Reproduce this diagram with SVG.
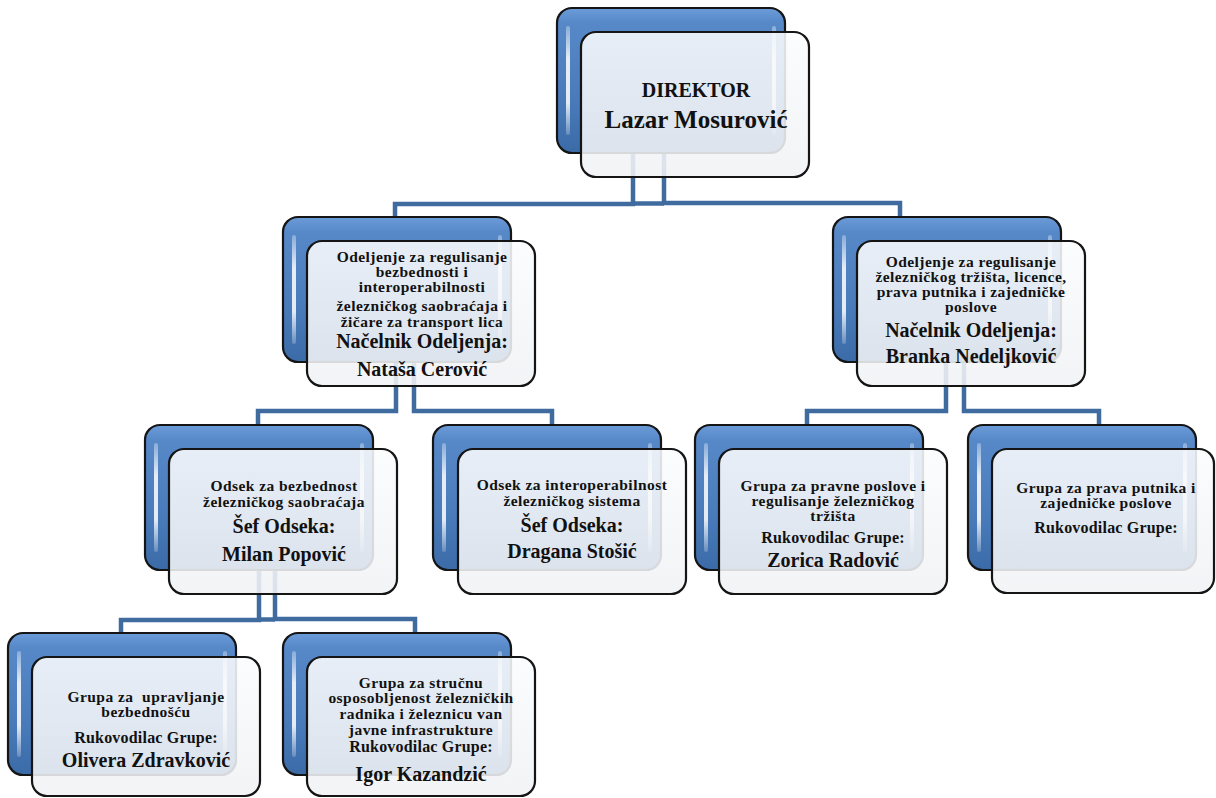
<svg xmlns="http://www.w3.org/2000/svg" width="1216" height="798" viewBox="0 0 1216 798">
<defs>
<linearGradient id="gBack" x1="0" y1="0" x2="0" y2="1">
<stop offset="0" stop-color="#6c9bd8"/>
<stop offset="0.1" stop-color="#5789c9"/>
<stop offset="0.6" stop-color="#4a7cbc"/>
<stop offset="1" stop-color="#3b6ba7"/>
</linearGradient>
<linearGradient id="gFront" x1="0" y1="0" x2="0" y2="1">
<stop offset="0" stop-color="#fbfcfd"/>
<stop offset="1" stop-color="#f0f2f5"/>
</linearGradient>
<linearGradient id="gHl" x1="0" y1="0" x2="0" y2="1">
<stop offset="0" stop-color="#ffffff" stop-opacity="0.3"/>
<stop offset="0.3" stop-color="#ffffff" stop-opacity="0.85"/>
<stop offset="0.7" stop-color="#ffffff" stop-opacity="0.85"/>
<stop offset="1" stop-color="#ffffff" stop-opacity="0.2"/>
</linearGradient>
</defs>
<style>
.back{fill:url(#gBack);stroke:#151515;stroke-width:2.2}
.front{fill:url(#gFront);fill-opacity:0.88;stroke:#151515;stroke-width:2.2}
.hl{fill:url(#gHl)}
.t{font-family:'Liberation Serif',serif;font-weight:bold;text-anchor:middle;fill:#111}
.s{font-size:15.5px;letter-spacing:0.45px}
.m{font-size:16px;letter-spacing:0.2px}
.l{font-size:20px}
.conn{fill:none;stroke:#3f6b9f;stroke-width:4.5}
</style>
<rect width="1216" height="798" fill="#ffffff"/>
<g id="connectors">
<path class="conn" d="M633,150 V204 H395 V219"/>
<path class="conn" d="M664,150 V203 H900 V219"/>
<path class="conn" d="M633,203.5 H664"/>
<path class="conn" d="M396,360 V411 H258 V426"/>
<path class="conn" d="M414,360 V411 H552 V426"/>
<path class="conn" d="M946,360 V411 H807 V426"/>
<path class="conn" d="M964,360 V411 H1099 V426"/>
<path class="conn" d="M259,568 V620 H121 V634"/>
<path class="conn" d="M275,568 V619 H415 V634"/>
<path class="conn" d="M259,619.5 H275"/>
</g>
<g id="director">
<rect class="back" x="557" y="8" width="228" height="145" rx="15"/>
<rect class="hl" x="566" y="26" width="4" height="109" rx="2"/>
<rect class="hl" x="772" y="26" width="4" height="109" rx="2"/>
<rect class="front" x="581" y="32" width="228" height="145" rx="15"/>
<text class="t" x="696" y="97" font-size="20">DIREKTOR</text>
<text class="t" x="696" y="128" font-size="25">Lazar Mosurović</text>
</g>
<g id="dept-left">
<rect class="back" x="283" y="217" width="228" height="145" rx="15"/>
<rect class="hl" x="292" y="235" width="4" height="109" rx="2"/>
<rect class="hl" x="498" y="235" width="4" height="109" rx="2"/>
<rect class="front" x="307" y="241" width="228" height="145" rx="15"/>
<text class="t s" x="422" y="262">Odeljenje za regulisanje</text>
<text class="t s" x="422" y="277">bezbednosti i</text>
<text class="t s" x="422" y="292">interoperabilnosti</text>
<text class="t s" x="422" y="311">železničkog saobraćaja i</text>
<text class="t s" x="422" y="327">žičare za transport lica</text>
<text class="t l" x="422" y="348">Načelnik Odeljenja:</text>
<text class="t l" x="422" y="376">Nataša Cerović</text>
</g>
<g id="dept-right">
<rect class="back" x="833" y="217" width="228" height="145" rx="15"/>
<rect class="hl" x="842" y="235" width="4" height="109" rx="2"/>
<rect class="hl" x="1048" y="235" width="4" height="109" rx="2"/>
<rect class="front" x="857" y="241" width="228" height="145" rx="15"/>
<text class="t s" x="971" y="267">Odeljenje za regulisanje</text>
<text class="t s" x="971" y="282">železničkog tržišta, licence,</text>
<text class="t s" x="971" y="297">prava putnika i zajedničke</text>
<text class="t s" x="971" y="312">poslove</text>
<text class="t l" x="971" y="337">Načelnik Odeljenja:</text>
<text class="t l" x="971" y="363">Branka Nedeljković</text>
</g>
<g id="odsek-bezbednost">
<rect class="back" x="145" y="425" width="228" height="145" rx="15"/>
<rect class="hl" x="154" y="443" width="4" height="109" rx="2"/>
<rect class="hl" x="360" y="443" width="4" height="109" rx="2"/>
<rect class="front" x="169" y="449" width="228" height="145" rx="15"/>
<text class="t s" x="284" y="491">Odsek za bezbednost</text>
<text class="t s" x="284" y="507">železničkog saobraćaja</text>
<text class="t l" x="284" y="533">Šef Odseka:</text>
<text class="t l" x="284" y="561">Milan Popović</text>
</g>
<g id="odsek-interoperabilnost">
<rect class="back" x="433" y="425" width="228" height="145" rx="15"/>
<rect class="hl" x="442" y="443" width="4" height="109" rx="2"/>
<rect class="hl" x="648" y="443" width="4" height="109" rx="2"/>
<rect class="front" x="458" y="449" width="228" height="145" rx="15"/>
<text class="t s" x="572" y="490">Odsek za interoperabilnost</text>
<text class="t s" x="572" y="506">železničkog sistema</text>
<text class="t l" x="572" y="532">Šef Odseka:</text>
<text class="t l" x="572" y="558">Dragana Stošić</text>
</g>
<g id="grupa-pravne">
<rect class="back" x="695" y="425" width="228" height="145" rx="15"/>
<rect class="hl" x="704" y="443" width="4" height="109" rx="2"/>
<rect class="hl" x="910" y="443" width="4" height="109" rx="2"/>
<rect class="front" x="719" y="449" width="228" height="145" rx="15"/>
<text class="t s" x="833" y="491">Grupa za pravne poslove i</text>
<text class="t s" x="833" y="506">regulisanje železničkog</text>
<text class="t s" x="833" y="521">tržišta</text>
<text class="t m" x="833" y="543">Rukovodilac Grupe:</text>
<text class="t l" x="833" y="567">Zorica Radović</text>
</g>
<g id="grupa-putnika">
<rect class="back" x="968" y="425" width="228" height="145" rx="15"/>
<rect class="hl" x="977" y="443" width="4" height="109" rx="2"/>
<rect class="hl" x="1183" y="443" width="4" height="109" rx="2"/>
<rect class="front" x="992" y="449" width="222" height="144" rx="15"/>
<text class="t s" x="1106" y="493">Grupa za prava putnika i</text>
<text class="t s" x="1106" y="508">zajedničke poslove</text>
<text class="t m" x="1106" y="533">Rukovodilac Grupe:</text>
</g>
<g id="grupa-upravljanje">
<rect class="back" x="8" y="633" width="228" height="142" rx="15"/>
<rect class="hl" x="17" y="651" width="4" height="106" rx="2"/>
<rect class="hl" x="223" y="651" width="4" height="106" rx="2"/>
<rect class="front" x="32" y="657" width="228" height="139" rx="15"/>
<text class="t s" x="146" y="702">Grupa za&#160; upravljanje</text>
<text class="t s" x="146" y="717">bezbednošću</text>
<text class="t m" x="146" y="743">Rukovodilac Grupe:</text>
<text class="t l" x="146" y="767">Olivera Zdravković</text>
</g>
<g id="grupa-strucna">
<rect class="back" x="283" y="633" width="228" height="142" rx="15"/>
<rect class="hl" x="292" y="651" width="4" height="106" rx="2"/>
<rect class="hl" x="498" y="651" width="4" height="106" rx="2"/>
<rect class="front" x="307" y="657" width="228" height="139" rx="15"/>
<text class="t s" x="421" y="688">Grupa za stručnu</text>
<text class="t s" x="421" y="703">osposobljenost železničkih</text>
<text class="t s" x="421" y="719">radnika i železnicu van</text>
<text class="t s" x="421" y="735">javne infrastrukture</text>
<text class="t m" x="421" y="752">Rukovodilac Grupe:</text>
<text class="t l" x="421" y="781">Igor Kazandzić</text>
</g>
</svg>
